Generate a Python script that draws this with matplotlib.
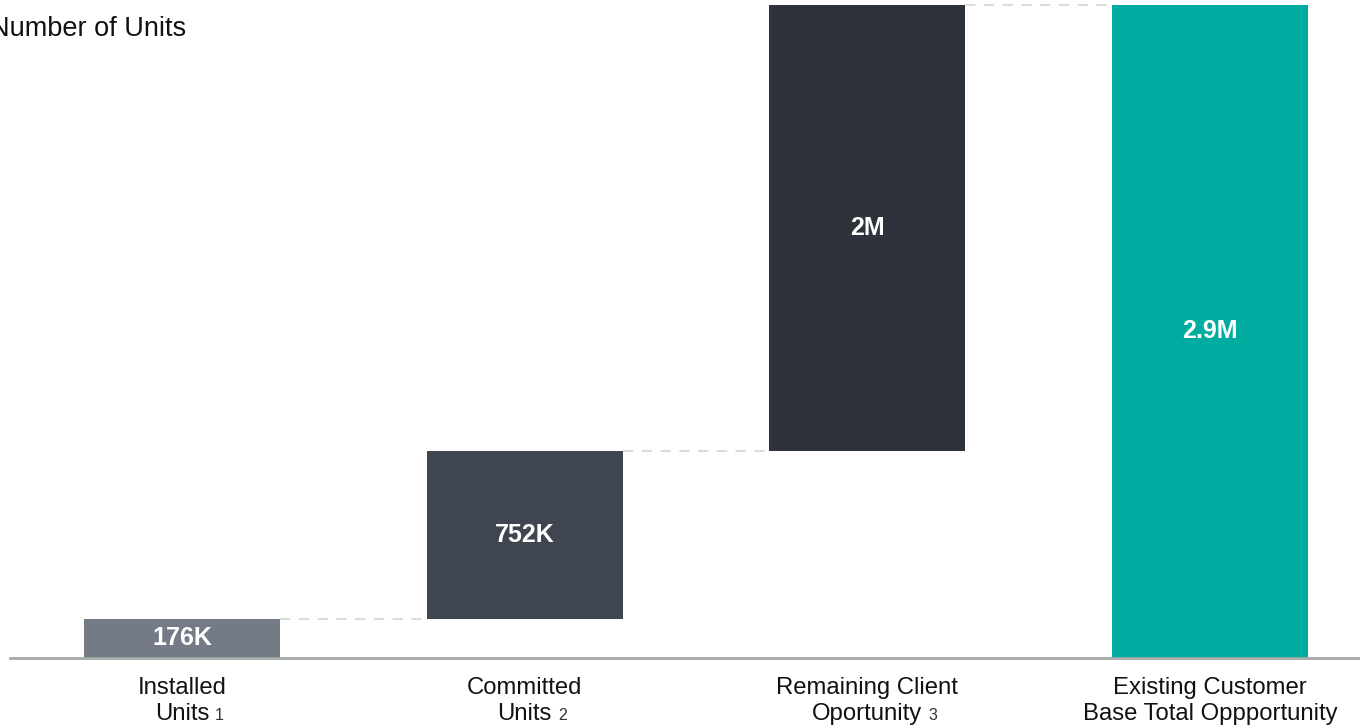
import matplotlib
matplotlib.use("Agg")
import matplotlib.pyplot as plt

plt.rcParams['font.family'] = ['Liberation Sans', 'DejaVu Sans']

# data
steps = [176_000, 752_000, 2_000_000]
value_labels = ["176K", "752K", "2M", "2.9M"]
label_line1 = ["Installed", "Committed", "Remaining Client", "Existing Customer"]
label_line2 = ["Units", "Units", "Oportunity", "Base Total Oppportunity"]
footnotes = ["1", "2", "3", ""]
colors = ["#747a86", "#3f4650", "#2e323a", "#00ab9f"]

total = sum(steps)

fig = plt.figure(figsize=(13.6, 7.27), dpi=100)
ax = fig.add_axes([0, 0, 1, 1])
ax.axis('off')

# pixel layout -> data limits
step_px = 342.67
ax.set_xlim(-182 / step_px, (1360 - 182) / step_px)
px_per_unit = 653 / total
ax.set_ylim(-69 / px_per_unit, total + 5 / px_per_unit)

width = 196 / step_px
bottoms = []
acc = 0
for v in steps:
    bottoms.append(acc)
    acc += v
heights = steps + [total]
bottoms = bottoms + [0]

for i in range(4):
    ax.bar(i, heights[i], bottom=bottoms[i], width=width, color=colors[i], zorder=2)
    ax.text(i, bottoms[i] + heights[i] / 2, value_labels[i], ha='center', va='center',
            color='white', fontsize=18, fontweight='bold', zorder=3)

# dashed connectors
for i in range(3):
    y = bottoms[i] + heights[i]
    ax.plot([i + width / 2, i + 1 - width / 2], [y, y], color='#dcdcdc', lw=1.5,
            dashes=(5, 4), zorder=1)

# baseline
ax.axhline(0, xmin=10 / 1360, xmax=1, color='#a3aaa7', lw=2, zorder=4)

# category labels
for i in range(4):
    ax.annotate(label_line1[i], xy=(i, 0), xytext=(0, -30), textcoords='offset pixels',
                ha='center', va='center', fontsize=17.2, color='#111111')
    t2 = ax.annotate(label_line2[i], xy=(i, 0), xytext=(0, -56), textcoords='offset pixels',
                     ha='center', va='center', fontsize=17.2, color='#111111')
    if footnotes[i]:
        ax.annotate(footnotes[i], xy=(1, 0.5), xycoords=t2, xytext=(6, -2),
                    textcoords='offset pixels', ha='left', va='center',
                    fontsize=11.5, color='#333333')

fig.text(186 / 1360, 1 - 29 / 727, "Number of Units", ha='right', va='center',
         fontsize=19.5, color='#111111')

fig.savefig("out.png", dpi=100)
